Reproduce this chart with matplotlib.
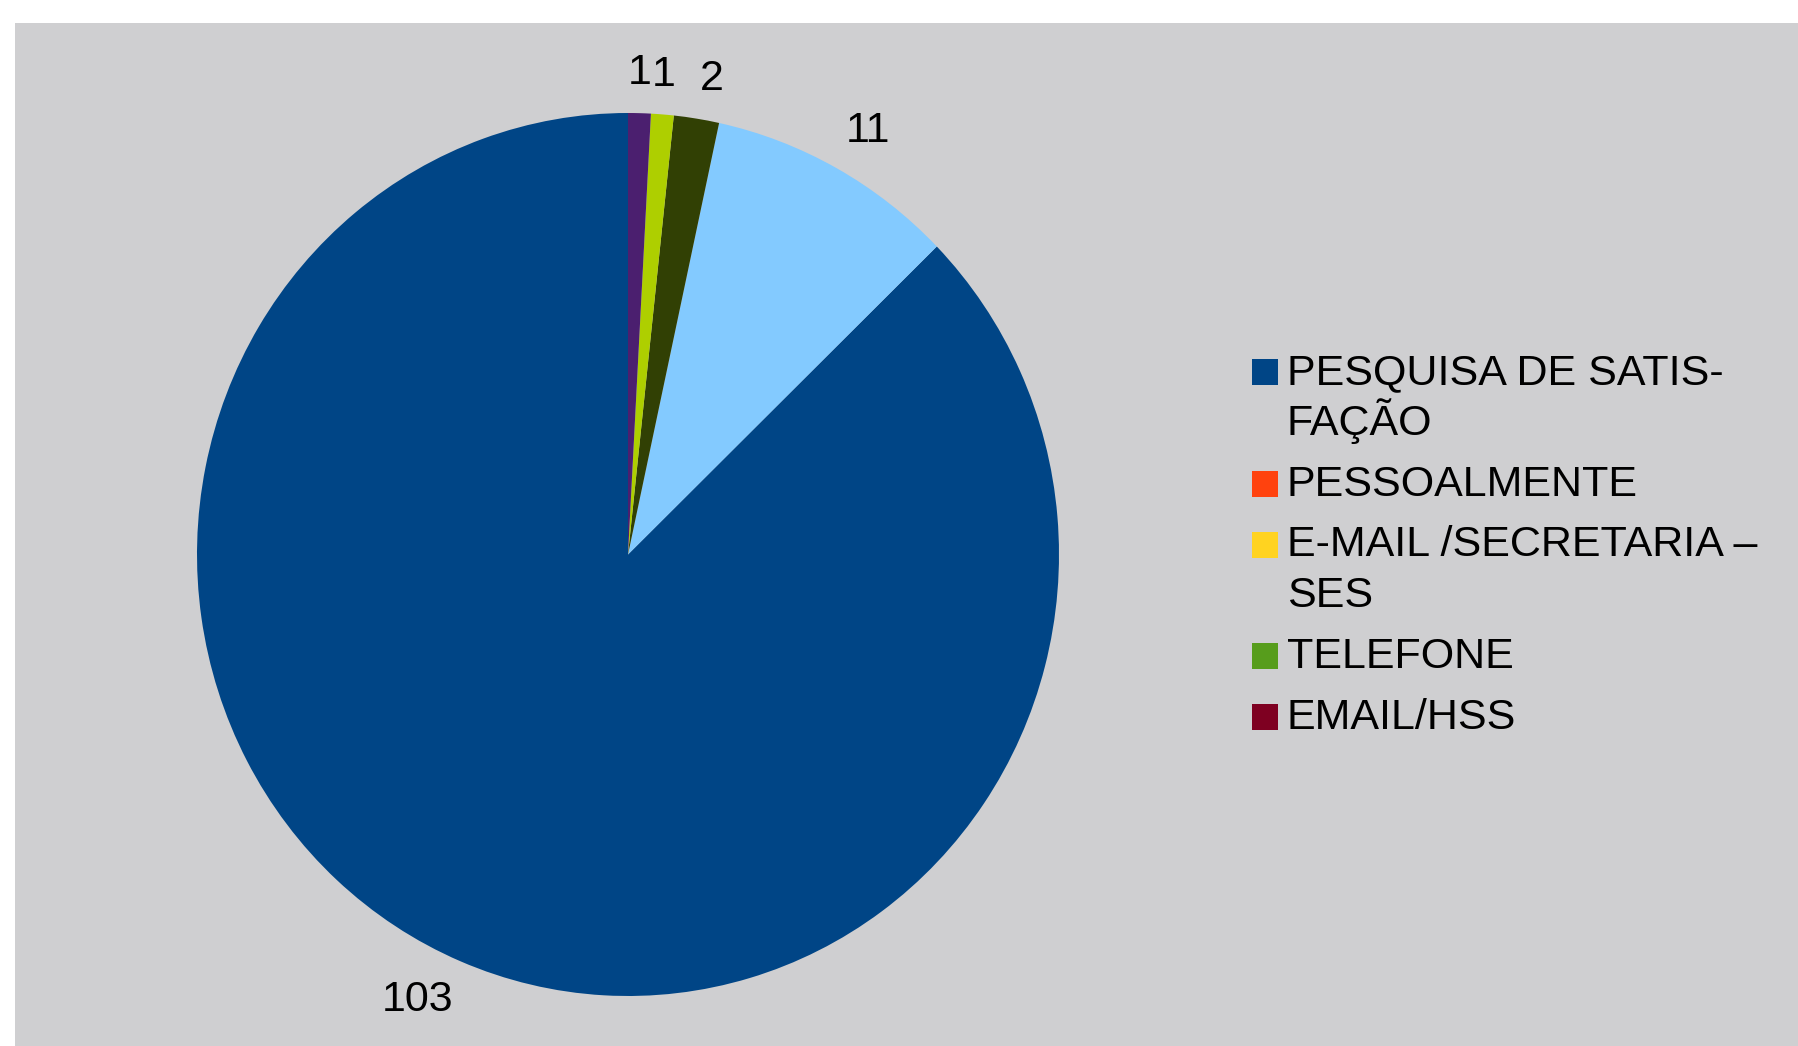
import numpy as np
import matplotlib
matplotlib.use('Agg')
import matplotlib.pyplot as plt
from matplotlib.patches import Rectangle

# Data
categories = ['PESQUISA DE SATIS-\nFAÇÃO', 'PESSOALMENTE', 'E-MAIL /SECRETARIA –\nSES', 'TELEFONE', 'EMAIL/HSS']
values = [103, 0, 0, 0, 0, 11, 2, 1, 1]
colors = ['#004586', '#ff420e', '#ffd320', '#579d1c', '#7e0021',
          '#83caff', '#314004', '#aecf00', '#4b1f6f']

W, H = 1798, 1046
FONT = 'Liberation Sans'
FS = 31
fig = plt.figure(figsize=(W / 100, H / 100), dpi=100)
fig.patch.set_facecolor('white')
fig.add_artist(Rectangle((15 / W, 0), 1 - 15 / W, (H - 23) / H, transform=fig.transFigure,
                         facecolor='#cfcfd1', edgecolor='none', zorder=0))

ax = fig.add_axes([197 / W, (H - 996) / H, 862 / W, 883 / H])
wedges, _ = ax.pie(values, colors=colors, startangle=90, counterclock=True,
                   wedgeprops=dict(linewidth=0))
ax.set_aspect('auto')
ax.set_xlim(-1, 1)
ax.set_ylim(-1, 1)
ax.patch.set_visible(False)

# value labels placed outside the wedges (LibreOffice-like anchoring)
R = 1.045
for w, v in zip(wedges, values):
    if v <= 0:
        continue
    mid = np.deg2rad((w.theta1 + w.theta2) / 2)
    c, s = np.cos(mid), np.sin(mid)
    ha = 'center' if abs(c) < 0.1 else ('left' if c > 0 else 'right')
    va = 'center' if abs(s) < 0.1 else ('bottom' if s > 0 else 'top')
    ax.text(R * c, R * s, f'{v}', ha=ha, va=va, family=FONT, fontsize=FS,
            color='black', clip_on=False)

# legend drawn to match the original layout (square aligned to first line)
x_sq, sq = 1252, 26
x_txt = 1287
line_h = 50.5
entry_gap = 61
y = 384  # baseline of first line, pixels from top
for cat, col in zip(categories, colors[:5]):
    fig.add_artist(Rectangle((x_sq / W, 1 - (y + 1) / H), sq / W, sq / H,
                             transform=fig.transFigure, facecolor=col, edgecolor='none'))
    lines = cat.split('\n')
    for k, ln in enumerate(lines):
        fig.text(x_txt / W, 1 - y / H, ln, ha='left', va='baseline',
                 family=FONT, fontsize=FS, color='black')
        if k < len(lines) - 1:
            y += line_h
    y += entry_gap

fig.savefig('out.png', dpi=100, facecolor='white')
